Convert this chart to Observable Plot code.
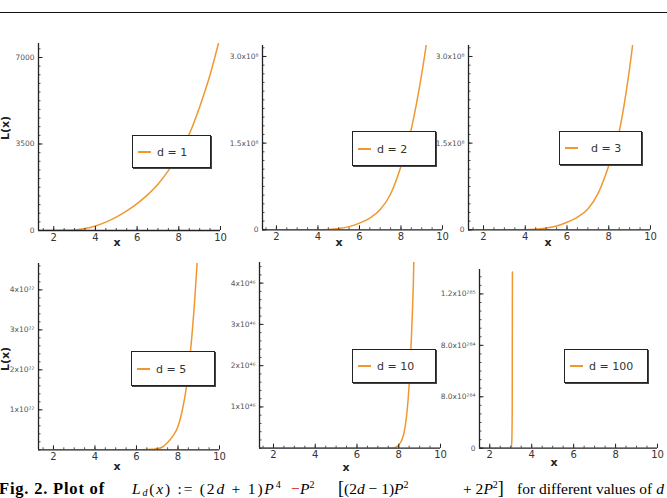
<!DOCTYPE html>
<html>
<head>
<meta charset="utf-8">
<script src="https://cdn.jsdelivr.net/npm/d3@7"></script>
<script src="https://cdn.jsdelivr.net/npm/@observablehq/plot@0.6"></script>
<style>
  html, body { margin: 0; padding: 0; background: #fff; }
  body { width: 667px; height: 498px; overflow: hidden; position: relative; font-family: "DejaVu Sans", sans-serif; }
  .rule { position: absolute; left: 0; top: 12px; width: 667px; height: 1px; background: #111; }
  .panel { position: absolute; }
  .legend { position: absolute; background: #fff; border: 1px solid #222; box-shadow: 1px 1px 0 #444; box-sizing: border-box; }
  .swatch { position: absolute; height: 2px; background: #f0982f; }
  .legtext { position: absolute; font-size: 11px; color: #333; white-space: nowrap; transform: translateY(-50%); }
  .xlab { position: absolute; font-weight: bold; font-size: 11px; color: #222; transform: translate(-50%, -50%); }
  .ylab { position: absolute; font-weight: bold; font-size: 11px; color: #222; transform: translate(-50%, -50%) rotate(-90deg); }
  .cap { position: absolute; top: 480px; line-height: 17px; font-family: "Liberation Serif", "DejaVu Serif", serif; font-size: 15.5px; white-space: nowrap; color: #000; }
  .cap i { font-style: italic; }
  .cap sup { font-size: 10px; vertical-align: 6px; line-height: 0; }
  .cap sub { font-size: 10px; vertical-align: -2px; line-height: 0; }
</style>
</head>
<body>
<div class="rule"></div>
<div id="root"></div>
<div class="cap" style="left:-1px; font-size:16.5px; letter-spacing:0.8px"><b>Fig. 2. Plot of</b></div>
<div class="cap" style="left:132px; letter-spacing:1.8px"><i>L<sub>d</sub></i>(<i>x</i>) := (2<i>d</i> + 1)<i>P</i><sup>4</sup></div>
<div class="cap" style="left:291px; color:#d01010">−</div>
<div class="cap" style="left:300px"><i>P</i><sup>2</sup></div>
<div class="cap" style="left:338px"><span style="font-size:18px">[</span>(2<i>d</i> − 1)<i>P</i><sup>2</sup></div>
<div class="cap" style="left:463px">+ 2<i>P</i><sup>2</sup><span style="font-size:18px">]</span></div>
<div class="cap" style="left:517px">for different values of <i>d</i></div>
<script>
// Shared x tick values
const xTicks = [2, 4, 6, 8, 10];

// Legend values of d
const dValues = [1, 2, 3, 5, 10, 100];

// d = 1
const x_d1 = [1.27, 2, 2.5, 3, 3.5, 4, 4.5, 5, 5.5, 6, 6.5, 7, 7.5, 8, 8.5, 9, 9.5, 10];
const L_d1 = [0, 0, 6, 25, 80, 185, 340, 540, 790, 1090, 1440, 1870, 2420, 3100, 3900, 5000, 6300, 7900];
const yTicks_d1 = [0, 3500, 7000];
const yTickLabels_d1 = ["0", "3500", "7000"];

// d = 2
const x_d2 = [1.33, 3, 4, 4.5, 5, 5.5, 6, 6.5, 7, 7.5, 8, 8.5, 9, 9.5];
const L_d2 = [0, 0, 0.001e8, 0.006e8, 0.022e8, 0.055e8, 0.115e8, 0.2e8, 0.35e8, 0.62e8, 1.1e8, 1.75e8, 2.7e8, 3.9e8];
const yTicks_d2 = [0, 1.5e8, 3.0e8];
const yTickLabels_d2 = ["0", "1.5x10⁸", "3.0x10⁸"];

// d = 3
const x_d3 = [1.28, 3, 4, 4.5, 5, 5.5, 6, 6.5, 7, 7.5, 8, 8.5, 9, 9.5];
const L_d3 = [0, 0, 0.002e8, 0.01e8, 0.03e8, 0.065e8, 0.13e8, 0.22e8, 0.36e8, 0.64e8, 1.11e8, 1.7e8, 2.8e8, 4.3e8];
const yTicks_d3 = [0, 1.5e8, 3.0e8];
const yTickLabels_d3 = ["0", "1.5x10⁸", "3.0x10⁸"];

// d = 5
const x_d5 = [1.28, 6, 6.5, 7, 7.25, 7.5, 7.75, 8, 8.2, 8.4, 8.6, 8.8, 9.0];
const L_d5 = [0, 0, 0.005e22, 0.025e22, 0.07e22, 0.18e22, 0.34e22, 0.58e22, 0.97e22, 1.55e22, 2.45e22, 3.7e22, 5.3e22];
const yTicks_d5 = [1e22, 2e22, 3e22, 4e22];
const yTickLabels_d5 = ["1x10²²", "2x10²²", "3x10²²", "4x10²²"];

// d = 10
const x_d10 = [1.33, 7.5, 7.7, 7.8, 7.9, 8.0, 8.1, 8.2, 8.3, 8.4, 8.5, 8.6, 8.7, 8.8];
const L_d10 = [0, 0, 0.003e46, 0.012e46, 0.035e46, 0.08e46, 0.15e46, 0.27e46, 0.5e46, 0.9e46, 1.55e46, 2.6e46, 4.0e46, 6.3e46];
const yTicks_d10 = [1e46, 2e46, 3e46, 4e46];
const yTickLabels_d10 = ["1x10⁴⁶", "2x10⁴⁶", "3x10⁴⁶", "4x10⁴⁶"];

// d = 100
const x_d100 = [1.51, 2.5, 2.9, 3.02, 3.05, 3.07, 3.08];
const L_d100 = [0, 0, 0, 0, 0.05e285, 0.3e285, 1.37e285];
const yTicks_d100 = [0, 4e284, 8e284, 1.2e285];
const yTickLabels_d100 = ["0", "8.0x10²⁸⁴", "8.0x10²⁸⁴", "1.2x10²⁸⁵"];

const series = [
  {xs: x_d1, ys: L_d1, ticks: yTicks_d1, labels: yTickLabels_d1},
  {xs: x_d2, ys: L_d2, ticks: yTicks_d2, labels: yTickLabels_d2},
  {xs: x_d3, ys: L_d3, ticks: yTicks_d3, labels: yTickLabels_d3},
  {xs: x_d5, ys: L_d5, ticks: yTicks_d5, labels: yTickLabels_d5},
  {xs: x_d10, ys: L_d10, ticks: yTicks_d10, labels: yTickLabels_d10},
  {xs: x_d100, ys: L_d100, ticks: yTicks_d100, labels: yTickLabels_d100}
];

// Panel frames on the page: [left, top, right, bottom], x start, y top, minor y step
const layout = [
  {box: [38, 43, 220, 230], xMin: 1.27, yMax: 7566, minor: 350,
   legend: [132, 135, 211, 168], xlab: [117, 242], ylab: [5, 128]},
  {box: [262, 45, 442, 229.3], xMin: 1.33, yMax: 3.19e8, minor: 0.15e8,
   legend: [352, 131, 436, 166], xlab: [339, 242]},
  {box: [468, 45, 650, 229.3], xMin: 1.28, yMax: 3.19e8, minor: 0.15e8,
   legend: [559, 131, 642, 165], xlab: [548, 242]},
  {box: [38, 263, 219, 449.3], xMin: 1.28, yMax: 4.66e22, minor: 0.2e22,
   legend: [131, 351, 215, 386], xlab: [117, 466], ylab: [5, 359]},
  {box: [259, 262, 440, 447.7], xMin: 1.33, yMax: 4.5e46, minor: 0.2e46,
   legend: [352, 349, 436, 383], xlab: [346, 467]},
  {box: [479, 269, 657, 447.7], xMin: 1.51, yMax: 1.39e285, minor: 4e284 / 6,
   legend: [564, 349, 648, 383], xlab: [554, 462]}
];

const LINE = "#f0982f";
const AXIS = "#222";
const mL = 48, mR = 10, mT = 6, mB = 24;
const root = document.getElementById("root");

series.forEach((s, i) => {
  const L = layout[i];
  const [left, top, right, bottom] = L.box;
  const w = right - left, h = bottom - top;
  const data = s.xs.map((x, j) => ({x, y: s.ys[j]}));
  const minorX = d3.range(1.5, 10.01, 0.5).filter(v => v > L.xMin);
  const minorY = d3.range(0, L.yMax, L.minor);

  const chart = Plot.plot({
    width: w + mL + mR,
    height: h + mT + mB,
    marginLeft: mL, marginRight: mR, marginTop: mT, marginBottom: mB,
    style: {background: "transparent", overflow: "visible", fontFamily: "DejaVu Sans, sans-serif"},
    x: {domain: [L.xMin, 10]},
    y: {domain: [0, L.yMax]},
    marks: [
      Plot.line(data, {x: "x", y: "y", stroke: LINE, strokeWidth: 1.5, curve: "monotone-x", clip: true}),
      Plot.ruleY([0], {stroke: AXIS, strokeWidth: 1.3}),
      Plot.ruleX([L.xMin], {stroke: AXIS, strokeWidth: 1.3}),
      Plot.ruleX(minorX, {stroke: AXIS, strokeWidth: 0.8, insetTop: h - 2}),
      Plot.ruleX(xTicks, {stroke: AXIS, strokeWidth: 1, insetTop: h - 4}),
      Plot.ruleY(minorY, {stroke: AXIS, strokeWidth: 0.8, insetRight: w - 2.5}),
      Plot.ruleY(s.ticks, {stroke: AXIS, strokeWidth: 1, insetRight: w - 4.5}),
      Plot.axisX(xTicks, {tickSize: 0, tickPadding: 3, fontSize: 10, color: "#333", label: null}),
      Plot.axisY(s.ticks, {tickSize: 0, tickPadding: 4, fontSize: 7.5, color: "#555", label: null,
        tickFormat: d => s.labels[s.ticks.indexOf(d)]})
    ]
  });
  const div = document.createElement("div");
  div.className = "panel";
  div.style.left = (left - mL) + "px";
  div.style.top = (top - mT) + "px";
  div.appendChild(chart);
  root.appendChild(div);

  // legend box
  const [ll, lt, lr, lb] = L.legend;
  const leg = document.createElement("div");
  leg.className = "legend";
  leg.style.left = ll + "px"; leg.style.top = lt + "px";
  leg.style.width = (lr - ll) + "px"; leg.style.height = (lb - lt) + "px";
  const midY = (lb - lt) / 2 - 1;
  const sw = document.createElement("div");
  sw.className = "swatch";
  sw.style.left = "5px"; sw.style.width = "13px"; sw.style.top = (midY - 1) + "px";
  const tx = document.createElement("div");
  tx.className = "legtext";
  tx.style.left = (i === 2 ? 31 : 24) + "px"; tx.style.top = midY + "px";
  tx.textContent = "d = " + dValues[i];
  leg.appendChild(sw); leg.appendChild(tx);
  root.appendChild(leg);

  // axis titles
  const xl = document.createElement("div");
  xl.className = "xlab";
  xl.style.left = L.xlab[0] + "px"; xl.style.top = L.xlab[1] + "px";
  xl.textContent = "x";
  root.appendChild(xl);
  if (L.ylab) {
    const yl = document.createElement("div");
    yl.className = "ylab";
    yl.style.left = L.ylab[0] + "px"; yl.style.top = L.ylab[1] + "px";
    yl.textContent = "L(x)";
    root.appendChild(yl);
  }
});
</script>
</body>
</html>
